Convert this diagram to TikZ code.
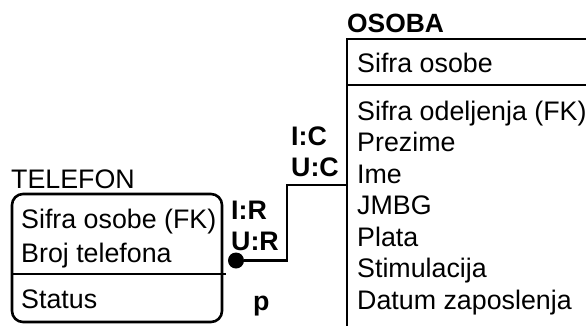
\documentclass[tikz,border=0pt]{standalone}
\usepackage{fontspec}
\setmainfont{Liberation Sans}
\usetikzlibrary{positioning}

\begin{document}
\begin{tikzpicture}[
  x=1pt, y=-1pt,
  font=\fontsize{26.8}{31.5}\selectfont,
  entity/.style={draw, line width=2.6pt, inner sep=0pt, outer sep=0pt, anchor=north west},
  enttitle/.style={anchor=base west, inner sep=0pt},
  attr/.style={anchor=base west, inner sep=0pt},
  card/.style={anchor=base west, inner sep=0pt, font=\fontsize{26.8}{31.5}\selectfont\bfseries},
  divider/.style={line width=2.6pt},
  conn/.style={line width=2.6pt}]

\useasboundingbox (0,0) rectangle (586,325);
\clip (0,0) rectangle (586,325);

\node[entity, minimum width=280pt, minimum height=320pt] (osoba) at (347,39) {};
\coordinate (osobacut) at (347,85);
\draw[divider] (osobacut) -- (osobacut -| osoba.east);
\node[enttitle, font=\fontsize{26.4}{31.5}\selectfont\bfseries] (osobaname) at (347,32) {OSOBA};
\node[attr] (osobakey) at (357,72) {Sifra osobe};
\foreach \t [count=\i] in {Sifra odeljenja (FK),Prezime,Ime,JMBG,Plata,Stimulacija,Datum zaposlenja}
  \node[attr] (osoba\i) at (357,{120+31.5*(\i-1)}) {\t};

\node[entity, rounded corners=11pt, minimum width=210pt, minimum height=128pt] (telefon) at (12,194) {};
\coordinate (telcut) at (12,274);
\draw[divider] (telcut) -- ++(213.5,0);
\node[enttitle] (telefonname) at (11,188) {TELEFON};
\node[attr] (telefonkey) at (21,228) {Sifra osobe (FK)};
\node[attr] (telefonbroj) at (21,262) {Broj telefona};
\node[attr] (telefonstatus) at (21,308) {Status};

\node[circle, fill, inner sep=0pt, minimum size=16pt] (dot) at (236,260.5) {};
\coordinate (bend) at (287,185);
\draw[conn] (dot) -| (bend) -- (bend -| osoba.west);

\node[card] (ic) at (291,145) {I:C};
\node[card] (uc) at (291,176) {U:C};
\node[card] (ir) at (231,219) {I:R};
\node[card] (ur) at (231,250) {U:R};
\node[card] (p) at (253,310.5) {p};
\end{tikzpicture}
\end{document}
